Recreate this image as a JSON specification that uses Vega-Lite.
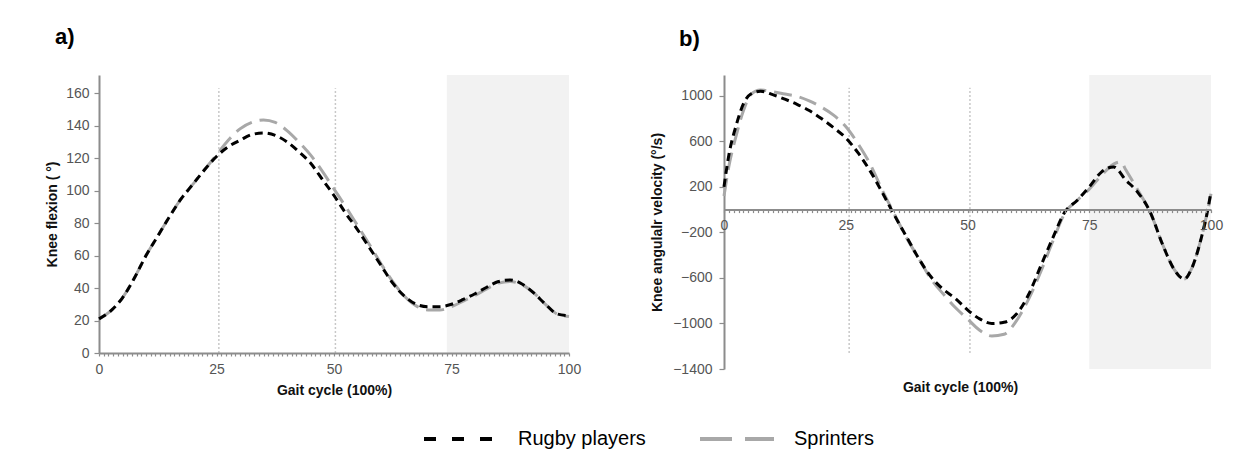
{
  "$schema": "https://vega.github.io/schema/vega-lite/v6.json",
  "padding": {"left": 45, "top": 26, "right": 4, "bottom": 4},
  "spacing": 69,
  "config": {
    "view": {"stroke": null},
    "font": "Liberation Sans",
    "axis": {
      "labelFont": "Liberation Sans", "labelFontSize": 14, "labelColor": "#555555",
      "titleFont": "Liberation Sans", "titleFontSize": 14, "titleFontWeight": "bold", "titleColor": "#111111",
      "domainColor": "#8c8c8c", "domainWidth": 2, "tickColor": "#8c8c8c", "tickWidth": 1.2,
      "grid": false, "labelOverlap": false
    }
  },
  "datasets": {
    "a": [
      {"x":0,"y":21,"s":"Rugby players"},{"x":2.5,"y":26,"s":"Rugby players"},{"x":5,"y":34,"s":"Rugby players"},{"x":7.5,"y":46,"s":"Rugby players"},{"x":10,"y":60,"s":"Rugby players"},{"x":12.5,"y":72,"s":"Rugby players"},{"x":15,"y":84,"s":"Rugby players"},{"x":17.5,"y":95,"s":"Rugby players"},{"x":20,"y":104,"s":"Rugby players"},{"x":22.5,"y":113,"s":"Rugby players"},{"x":25,"y":121,"s":"Rugby players"},{"x":27.5,"y":127,"s":"Rugby players"},{"x":30,"y":131,"s":"Rugby players"},{"x":32.5,"y":134.5,"s":"Rugby players"},{"x":35,"y":135.5,"s":"Rugby players"},{"x":37.5,"y":134,"s":"Rugby players"},{"x":40,"y":130,"s":"Rugby players"},{"x":42.5,"y":124,"s":"Rugby players"},{"x":45,"y":117,"s":"Rugby players"},{"x":47.5,"y":107,"s":"Rugby players"},{"x":50,"y":97,"s":"Rugby players"},{"x":52.5,"y":86,"s":"Rugby players"},{"x":55,"y":76,"s":"Rugby players"},{"x":57.5,"y":65,"s":"Rugby players"},{"x":60,"y":54,"s":"Rugby players"},{"x":62.5,"y":43,"s":"Rugby players"},{"x":65,"y":35,"s":"Rugby players"},{"x":67.5,"y":30,"s":"Rugby players"},{"x":70,"y":28.5,"s":"Rugby players"},{"x":72.5,"y":28.5,"s":"Rugby players"},{"x":75,"y":30,"s":"Rugby players"},{"x":77.5,"y":33,"s":"Rugby players"},{"x":80,"y":36.5,"s":"Rugby players"},{"x":82.5,"y":40.5,"s":"Rugby players"},{"x":85,"y":44,"s":"Rugby players"},{"x":87.5,"y":45,"s":"Rugby players"},{"x":90,"y":42.5,"s":"Rugby players"},{"x":92.5,"y":37,"s":"Rugby players"},{"x":95,"y":30,"s":"Rugby players"},{"x":97.5,"y":24,"s":"Rugby players"},{"x":100,"y":23,"s":"Rugby players"},
      {"x":0,"y":21,"s":"Sprinters"},{"x":2.5,"y":26,"s":"Sprinters"},{"x":5,"y":34,"s":"Sprinters"},{"x":7.5,"y":46,"s":"Sprinters"},{"x":10,"y":60,"s":"Sprinters"},{"x":12.5,"y":72,"s":"Sprinters"},{"x":15,"y":84,"s":"Sprinters"},{"x":17.5,"y":95,"s":"Sprinters"},{"x":20,"y":104,"s":"Sprinters"},{"x":22.5,"y":113,"s":"Sprinters"},{"x":25,"y":122,"s":"Sprinters"},{"x":27.5,"y":131,"s":"Sprinters"},{"x":30,"y":138,"s":"Sprinters"},{"x":32.5,"y":142,"s":"Sprinters"},{"x":35,"y":143.5,"s":"Sprinters"},{"x":37.5,"y":142,"s":"Sprinters"},{"x":40,"y":137,"s":"Sprinters"},{"x":42.5,"y":130,"s":"Sprinters"},{"x":45,"y":122,"s":"Sprinters"},{"x":47.5,"y":112,"s":"Sprinters"},{"x":50,"y":101,"s":"Sprinters"},{"x":52.5,"y":90,"s":"Sprinters"},{"x":55,"y":78.5,"s":"Sprinters"},{"x":57.5,"y":67,"s":"Sprinters"},{"x":60,"y":55,"s":"Sprinters"},{"x":62.5,"y":44,"s":"Sprinters"},{"x":65,"y":35,"s":"Sprinters"},{"x":67.5,"y":29,"s":"Sprinters"},{"x":70,"y":26.5,"s":"Sprinters"},{"x":72.5,"y":26.5,"s":"Sprinters"},{"x":75,"y":28.5,"s":"Sprinters"},{"x":77.5,"y":32,"s":"Sprinters"},{"x":80,"y":35.5,"s":"Sprinters"},{"x":82.5,"y":39.5,"s":"Sprinters"},{"x":85,"y":43,"s":"Sprinters"},{"x":87.5,"y":44,"s":"Sprinters"},{"x":90,"y":42,"s":"Sprinters"},{"x":92.5,"y":37,"s":"Sprinters"},{"x":95,"y":30,"s":"Sprinters"},{"x":97.5,"y":24,"s":"Sprinters"},{"x":100,"y":22.5,"s":"Sprinters"}
    ],
    "b": [
      {"x":0,"y":200,"s":"Rugby players"},{"x":1,"y":480,"s":"Rugby players"},{"x":2.5,"y":740,"s":"Rugby players"},{"x":4,"y":930,"s":"Rugby players"},{"x":5.5,"y":1015,"s":"Rugby players"},{"x":7.5,"y":1040,"s":"Rugby players"},{"x":10,"y":1010,"s":"Rugby players"},{"x":12.5,"y":970,"s":"Rugby players"},{"x":15,"y":925,"s":"Rugby players"},{"x":17.5,"y":870,"s":"Rugby players"},{"x":20,"y":800,"s":"Rugby players"},{"x":22.5,"y":720,"s":"Rugby players"},{"x":25,"y":630,"s":"Rugby players"},{"x":27.5,"y":500,"s":"Rugby players"},{"x":30,"y":340,"s":"Rugby players"},{"x":32.5,"y":150,"s":"Rugby players"},{"x":35,"y":-50,"s":"Rugby players"},{"x":37.5,"y":-240,"s":"Rugby players"},{"x":40,"y":-430,"s":"Rugby players"},{"x":42.5,"y":-590,"s":"Rugby players"},{"x":45,"y":-700,"s":"Rugby players"},{"x":47.5,"y":-780,"s":"Rugby players"},{"x":50,"y":-880,"s":"Rugby players"},{"x":52.5,"y":-960,"s":"Rugby players"},{"x":55,"y":-1000,"s":"Rugby players"},{"x":57.5,"y":-990,"s":"Rugby players"},{"x":60,"y":-920,"s":"Rugby players"},{"x":62.5,"y":-750,"s":"Rugby players"},{"x":65,"y":-500,"s":"Rugby players"},{"x":67.5,"y":-250,"s":"Rugby players"},{"x":70,"y":-20,"s":"Rugby players"},{"x":72.5,"y":80,"s":"Rugby players"},{"x":75,"y":200,"s":"Rugby players"},{"x":77.5,"y":330,"s":"Rugby players"},{"x":80,"y":375,"s":"Rugby players"},{"x":82.5,"y":260,"s":"Rugby players"},{"x":85,"y":150,"s":"Rugby players"},{"x":87.5,"y":-20,"s":"Rugby players"},{"x":90,"y":-300,"s":"Rugby players"},{"x":92.5,"y":-530,"s":"Rugby players"},{"x":94.5,"y":-610,"s":"Rugby players"},{"x":96,"y":-520,"s":"Rugby players"},{"x":98,"y":-250,"s":"Rugby players"},{"x":99.3,"y":-10,"s":"Rugby players"},{"x":100,"y":160,"s":"Rugby players"},
      {"x":0,"y":120,"s":"Sprinters"},{"x":1,"y":380,"s":"Sprinters"},{"x":2.5,"y":650,"s":"Sprinters"},{"x":4,"y":870,"s":"Sprinters"},{"x":5.5,"y":1010,"s":"Sprinters"},{"x":7.5,"y":1050,"s":"Sprinters"},{"x":10,"y":1035,"s":"Sprinters"},{"x":12.5,"y":1015,"s":"Sprinters"},{"x":15,"y":995,"s":"Sprinters"},{"x":17.5,"y":955,"s":"Sprinters"},{"x":20,"y":900,"s":"Sprinters"},{"x":22.5,"y":830,"s":"Sprinters"},{"x":25,"y":730,"s":"Sprinters"},{"x":27.5,"y":580,"s":"Sprinters"},{"x":30,"y":400,"s":"Sprinters"},{"x":32.5,"y":170,"s":"Sprinters"},{"x":35,"y":-40,"s":"Sprinters"},{"x":37.5,"y":-250,"s":"Sprinters"},{"x":40,"y":-430,"s":"Sprinters"},{"x":42.5,"y":-610,"s":"Sprinters"},{"x":45,"y":-740,"s":"Sprinters"},{"x":47.5,"y":-860,"s":"Sprinters"},{"x":50,"y":-960,"s":"Sprinters"},{"x":52.5,"y":-1060,"s":"Sprinters"},{"x":55,"y":-1110,"s":"Sprinters"},{"x":57.5,"y":-1095,"s":"Sprinters"},{"x":60,"y":-980,"s":"Sprinters"},{"x":62.5,"y":-790,"s":"Sprinters"},{"x":65,"y":-550,"s":"Sprinters"},{"x":67.5,"y":-280,"s":"Sprinters"},{"x":70,"y":-30,"s":"Sprinters"},{"x":72.5,"y":80,"s":"Sprinters"},{"x":75,"y":180,"s":"Sprinters"},{"x":77.5,"y":300,"s":"Sprinters"},{"x":80,"y":400,"s":"Sprinters"},{"x":81.5,"y":420,"s":"Sprinters"},{"x":82.5,"y":350,"s":"Sprinters"},{"x":85,"y":170,"s":"Sprinters"},{"x":87.5,"y":-20,"s":"Sprinters"},{"x":90,"y":-300,"s":"Sprinters"},{"x":92.5,"y":-530,"s":"Sprinters"},{"x":94.5,"y":-610,"s":"Sprinters"},{"x":96,"y":-520,"s":"Sprinters"},{"x":98,"y":-250,"s":"Sprinters"},{"x":99.3,"y":-10,"s":"Sprinters"},{"x":100,"y":140,"s":"Sprinters"}
    ],
    "shadeA": [{"x":74,"x2":100,"y":0,"y2":171.2}],
    "shadeB": [{"x":75,"x2":100,"y":-1400,"y2":1182.4}],
    "rulesA": [{"x":25.5,"y":0,"y2":163},{"x":50.3,"y":0,"y2":163}],
    "rulesB": [{"x":25.7,"y":-1260,"y2":1070},{"x":50.5,"y":-1260,"y2":1070}]
  },
  "hconcat": [
    {
      "width": 470, "height": 278,
      "title": {"text": "a)", "anchor": "start", "frame": "group", "dx": -44, "offset": 26, "fontSize": 22, "fontWeight": "bold", "font": "Liberation Sans", "color": "#000000"},
      "encoding": {
        "x": {"field": "x", "type": "quantitative", "scale": {"domain": [0, 100], "nice": false},
              "axis": {"title": "Gait cycle (100%)", "values": [0,1,2,3,4,5,6,7,8,9,10,11,12,13,14,15,16,17,18,19,20,21,22,23,24,25,26,27,28,29,30,31,32,33,34,35,36,37,38,39,40,41,42,43,44,45,46,47,48,49,50,51,52,53,54,55,56,57,58,59,60,61,62,63,64,65,66,67,68,69,70,71,72,73,74,75,76,77,78,79,80,81,82,83,84,85,86,87,88,89,90,91,92,93,94,95,96,97,98,99,100],
                       "labelExpr": "datum.value % 25 === 0 ? datum.label : ''", "labelOverlap": false, "labelFlush": false, "tickSize": 3, "labelPadding": 6, "titleY": 37, "titleBaseline": "middle", "zindex": 1}},
        "y": {"field": "y", "type": "quantitative", "scale": {"domain": [0, 171.2], "nice": false},
              "axis": {"title": "Knee flexion ( °)", "values": [0,20,40,60,80,100,120,140,160], "labelOverlap": false, "tickSize": 5, "labelPadding": 5, "titlePadding": 6}}
      },
      "layer": [
        {
          "data": {"name": "shadeA"},
          "mark": {"type": "rect", "color": "#f2f2f2"},
          "encoding": {"x2": {"field": "x2"}, "y2": {"field": "y2"}}
        },
        {
          "data": {"name": "rulesA"},
          "mark": {"type": "rule", "color": "#c8c8c8", "strokeDash": [2, 2], "strokeWidth": 1.5},
          "encoding": {"y2": {"field": "y2"}}
        },
        {
          "data": {"name": "a"},
          "transform": [{"filter": "datum.s === 'Sprinters'"}],
          "mark": {"type": "line", "interpolate": "monotone", "strokeWidth": 3, "color": "#a8a8a8", "strokeDash": [18, 8]},
          "encoding": {}
        },
        {
          "data": {"name": "a"},
          "transform": [{"filter": "datum.s === 'Rugby players'"}],
          "mark": {"type": "line", "interpolate": "monotone", "strokeWidth": 3, "color": "#000000", "strokeDash": [8, 5]},
          "encoding": {}
        },
        {
          "data": {"name": "a"},
          "transform": [{"filter": "datum.x < 0"}],
          "mark": {"type": "line", "strokeWidth": 4},
          "encoding": {
            "color": {"field": "s", "type": "nominal", "scale": {"domain": ["Rugby players", "Sprinters"], "range": ["#000000", "#a8a8a8"]},
                      "legend": {"title": null, "orient": "none", "legendX": 323, "legendY": 325, "direction": "horizontal", "symbolType": "stroke", "symbolSize": 5476, "symbolStrokeWidth": 4, "labelFontSize": 20, "labelFont": "Liberation Sans", "labelColor": "#000000", "labelOffset": 18, "columnPadding": 46}},
            "strokeDash": {"field": "s", "type": "nominal", "scale": {"domain": ["Rugby players", "Sprinters"], "range": [[12, 16], [32, 13]]},
                      "legend": {"title": null, "orient": "none", "legendX": 323, "legendY": 325, "direction": "horizontal", "symbolType": "stroke", "symbolSize": 5476, "symbolStrokeWidth": 4, "labelFontSize": 20, "labelFont": "Liberation Sans", "labelColor": "#000000", "labelOffset": 18, "columnPadding": 46}}
          }
        }
      ]
    },
    {
      "width": 487, "height": 294,
      "title": {"text": "b)", "anchor": "start", "frame": "group", "dx": -45, "offset": 24, "fontSize": 22, "fontWeight": "bold", "font": "Liberation Sans", "color": "#000000"},
      "encoding": {
        "x": {"field": "x", "type": "quantitative", "scale": {"domain": [0, 100], "nice": false},
              "axis": {"title": "Gait cycle (100%)", "values": [0,1,2,3,4,5,6,7,8,9,10,11,12,13,14,15,16,17,18,19,20,21,22,23,24,25,26,27,28,29,30,31,32,33,34,35,36,37,38,39,40,41,42,43,44,45,46,47,48,49,50,51,52,53,54,55,56,57,58,59,60,61,62,63,64,65,66,67,68,69,70,71,72,73,74,75,76,77,78,79,80,81,82,83,84,85,86,87,88,89,90,91,92,93,94,95,96,97,98,99,100],
                       "labelExpr": "datum.value % 25 === 0 ? datum.label : ''", "labelOverlap": false, "labelFlush": false, "tickSize": 3, "labelPadding": 6, "offset": -159.4, "titleX": 236, "titleY": 177.6, "titleBaseline": "middle", "zindex": 1}},
        "y": {"field": "y", "type": "quantitative", "scale": {"domain": [-1400, 1182.4], "nice": false},
              "axis": {"title": "Knee angulalr velocity (°/s)", "values": [-1400,-1000,-600,-200,200,600,1000], "format": "d", "labelOverlap": false, "tickSize": 5, "labelPadding": 7, "titlePadding": 8}}
      },
      "layer": [
        {
          "data": {"name": "shadeB"},
          "mark": {"type": "rect", "color": "#f2f2f2"},
          "encoding": {"x2": {"field": "x2"}, "y2": {"field": "y2"}}
        },
        {
          "data": {"name": "rulesB"},
          "mark": {"type": "rule", "color": "#c8c8c8", "strokeDash": [2, 2], "strokeWidth": 1.5},
          "encoding": {"y2": {"field": "y2"}}
        },
        {
          "data": {"name": "b"},
          "transform": [{"filter": "datum.s === 'Sprinters'"}],
          "mark": {"type": "line", "interpolate": "monotone", "strokeWidth": 3, "color": "#a8a8a8", "strokeDash": [18, 8]},
          "encoding": {}
        },
        {
          "data": {"name": "b"},
          "transform": [{"filter": "datum.s === 'Rugby players'"}],
          "mark": {"type": "line", "interpolate": "monotone", "strokeWidth": 3, "color": "#000000", "strokeDash": [8, 5]},
          "encoding": {}
        }
      ]
    }
  ]
}
